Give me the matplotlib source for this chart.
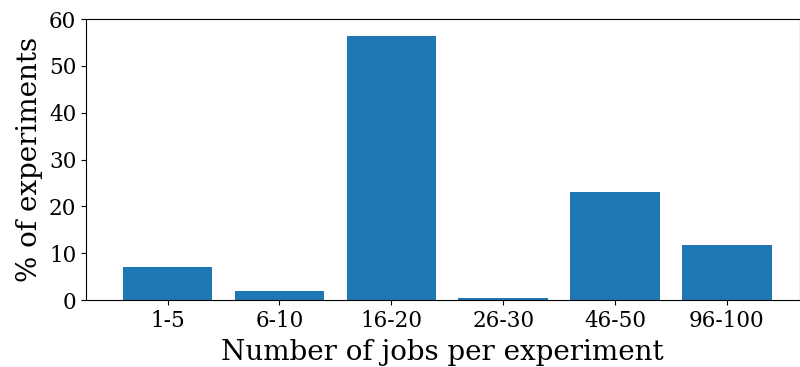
import matplotlib
matplotlib.use("Agg")
import matplotlib.pyplot as plt

categories = ["1-5", "6-10", "16-20", "26-30", "46-50", "96-100"]
values = [7.0, 2.0, 56.3, 0.5, 23.0, 11.7]

plt.rcParams['font.family'] = ['DejaVu Serif']

fig = plt.figure(figsize=(8, 3.67), dpi=100)
ax = fig.add_axes([0.1075, 0.182, 0.892, 0.766])
x = list(range(len(categories)))
ax.bar(x, values, width=0.8, color="#1f77b4")
ax.set_xticks(x)
ax.set_xticklabels(categories, fontsize=15.5)
ax.set_yticks([0, 10, 20, 30, 40, 50, 60])
ax.tick_params(axis='y', labelsize=15.5)
ax.set_ylim(0, 60)
ax.set_xlim(-0.73, 5.65)
ax.set_xlabel("Number of jobs per experiment", fontsize=20, labelpad=5)
ax.set_ylabel("% of experiments", fontsize=20, labelpad=4)
fig.savefig("out.png", dpi=100)
